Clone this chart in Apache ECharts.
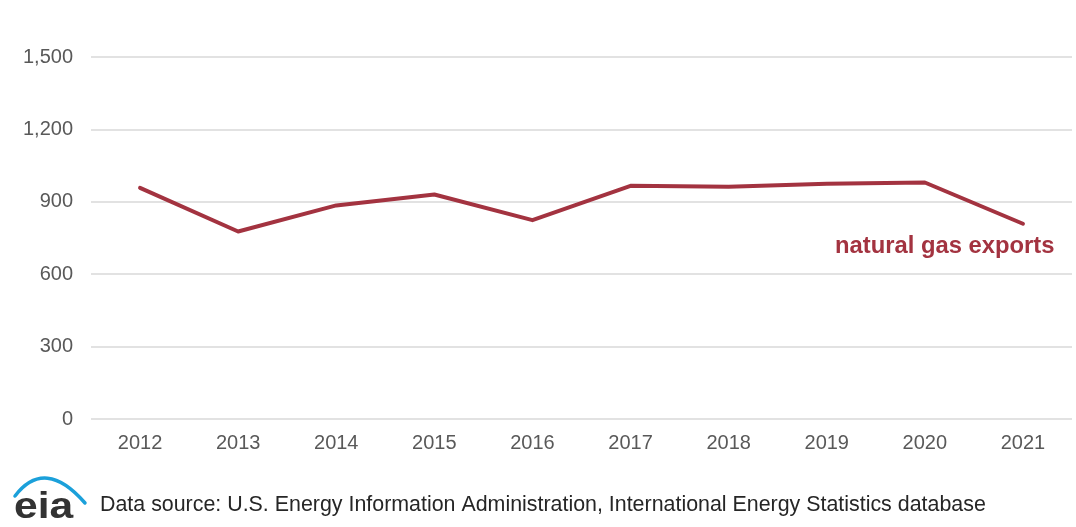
<!DOCTYPE html>
<html><head><meta charset="utf-8">
<script src="https://cdn.jsdelivr.net/npm/echarts@6/dist/echarts.min.js"></script>
<style>html,body{margin:0;padding:0;background:#fff}#c{width:1076px;height:527px}</style>
</head><body><div id="c"></div>
<script>
const years = ['2012','2013','2014','2015','2016','2017','2018','2019','2020','2021'];
const exportsValues = [958, 777, 885, 930, 824, 966, 962, 975, 980, 809];
const yTicks = [0, 300, 600, 900, 1200, 1500];
const seriesLabel = 'natural gas exports';
const sourceText = 'Data source: U.S. Energy Information Administration, International Energy Statistics database';

const chart = echarts.init(document.getElementById('c'));
chart.setOption({
  animation: false,
  grid: {left: 91, right: 4, top: 57, bottom: 108},
  xAxis: {
    type: 'category', data: years, boundaryGap: true,
    axisLine: {show: false}, axisTick: {show: false},
    axisLabel: {color: '#595959', fontSize: 20, fontFamily: 'Liberation Sans, Arial', margin: 14}
  },
  yAxis: {
    type: 'value', min: yTicks[0], max: yTicks[yTicks.length-1], interval: 300,
    axisLine: {show: false}, axisTick: {show: false},
    splitLine: {lineStyle: {color: '#d9d9d9', width: 1.5}},
    axisLabel: {color: '#595959', fontSize: 20, fontFamily: 'Liberation Sans, Arial', margin: 18,
      formatter: v => v.toLocaleString('en-US')}
  },
  series: [{
    type: 'line', data: exportsValues, symbol: 'none',
    lineStyle: {color: '#a33340', width: 4, cap: 'round', join: 'round'},
    itemStyle: {color: '#a33340'}
  }],
  graphic: [
    {type: 'text', x: 835, y: 234, style: {text: seriesLabel, fill: '#a33340', font: 'bold 23.8px "Liberation Sans", Arial'}},
    {type: 'text', x: 100, y: 495, style: {text: sourceText, fill: '#262626', font: '21.4px "Liberation Sans", Arial'}},
    {type: 'text', x: 14, y: 489, scaleX: 1.15, style: {text: 'eia', fill: '#333333', font: 'bold 37px "Liberation Sans", Arial'}},
    {type: 'bezierCurve', shape: {x1: 15, y1: 496, cpx1: 45, cpy1: 457, x2: 85, y2: 503}, style: {stroke: '#1ba0da', lineWidth: 3.5, fill: null, lineCap: 'round'}}
  ]
});
</script></body></html>
